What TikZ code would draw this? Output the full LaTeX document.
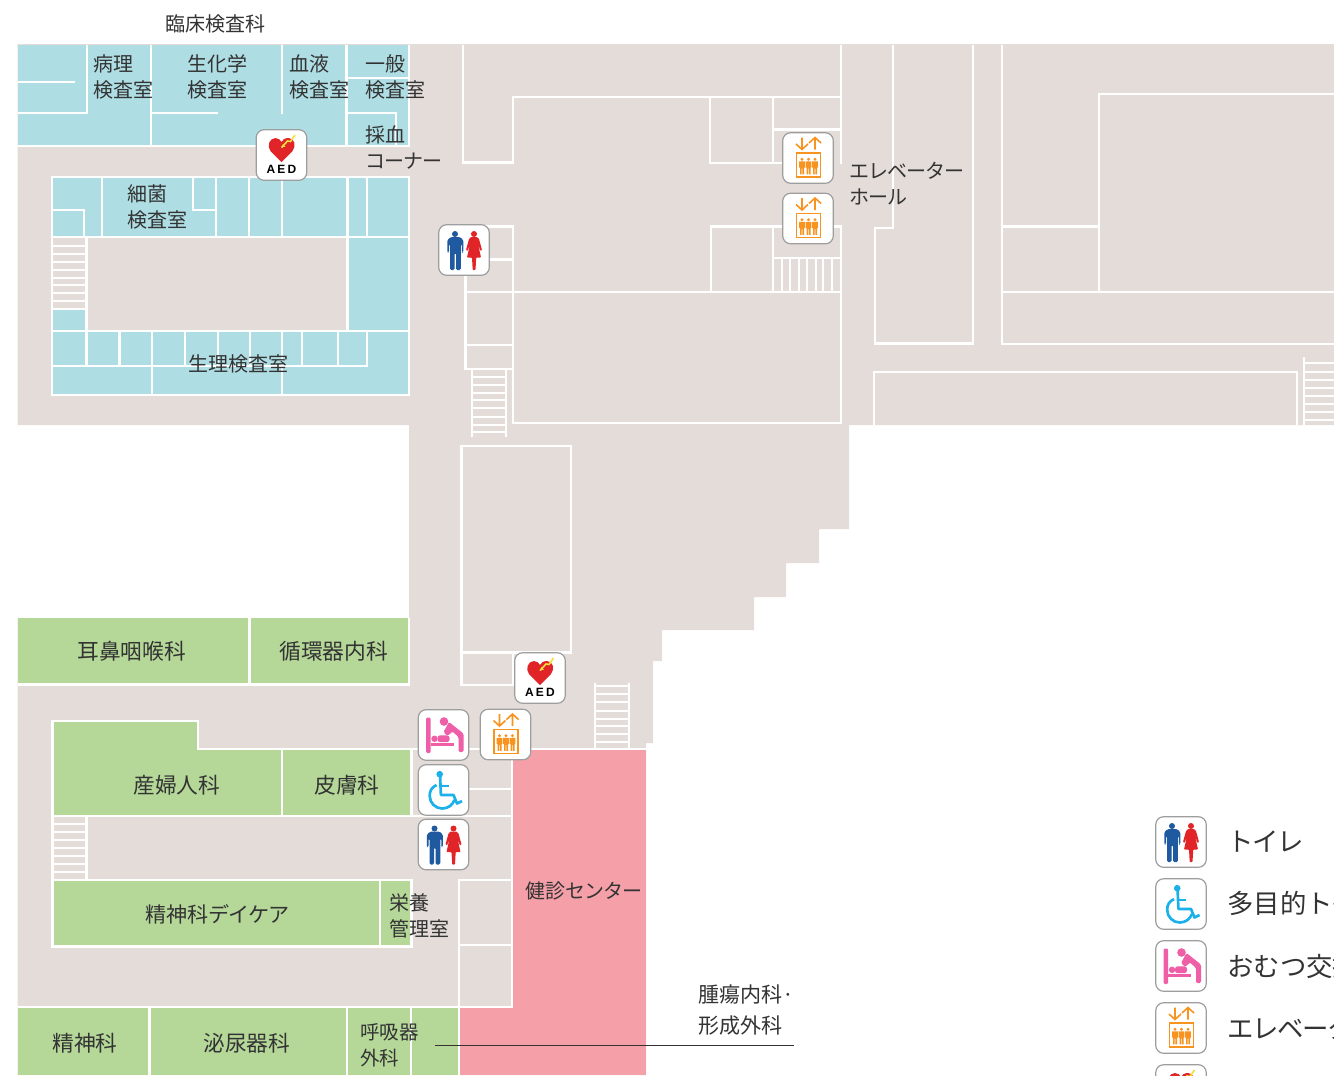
\documentclass[tikz,border=0pt]{standalone}
\usepackage{fontspec}
\setmainfont{Noto Sans CJK JP}
\newfontfamily\aedfont{Liberation Sans}
\definecolor{beige}{HTML}{E4DCD8}
\definecolor{lab}{HTML}{AEDDE3}
\definecolor{ward}{HTML}{B5D899}
\definecolor{checkup}{HTML}{F5A0A8}
\definecolor{ink}{HTML}{333333}
\definecolor{manblue}{HTML}{1F5AA0}
\definecolor{womanred}{HTML}{E02428}
\definecolor{liftorange}{HTML}{F7931E}
\definecolor{chaircyan}{HTML}{1AB0EA}
\definecolor{babypink}{HTML}{EE5FA7}
\definecolor{boltyellow}{HTML}{F7E03C}
\newcommand{\hw}[3]{\draw[wall] (#2,#1) -- (#3,#1);}
\newcommand{\vw}[3]{\draw[wall] (#1,#2) -- (#1,#3);}
\newcommand{\ks}[1]{{\addfontfeature{LetterSpace=-5}#1}}
\tikzset{
  x=0.75pt,y=-0.75pt,
  wall/.style={draw=white,line width=1.75pt,line cap=rect},
  rung/.style={draw=white,line width=1.5pt},
  room/.style={anchor=west,inner sep=0pt,align=left,text=ink,yshift=-0.6pt,font=\fontsize{15}{19.5}\selectfont},
  roomb/.style={room,yshift=0.6pt,font=\fontsize{16.3}{19.5}\selectfont},
  roomc/.style={room,font=\fontsize{15.8}{19.5}\selectfont},
  roomd/.style={room,font=\fontsize{14.6}{19.5}\selectfont},
  legendtext/.style={room,yshift=0.4pt,font=\fontsize{19.8}{19.8}\selectfont},
  iconbox/.style={draw=black!38,fill=white,line width=0.9pt,rounded corners=6pt},
  boxpath/.pic={\draw[iconbox] (-25.3,-25.3) rectangle (25.3,25.3);},
  toilet/.pic={
    \pic {boxpath};
    \fill[manblue] (-9,-16) circle[radius=3];
    \fill[manblue,rounded corners=1pt] (-13,-13) -- (-4,-13) -- (-0.7,-10) -- (-0.7,2.5) -- (-2.2,2.5) -- (-2.2,-6) -- (-3.2,-6) -- (-3.2,20) -- (-8,20) -- (-8,3) -- (-9.5,3) -- (-9.5,20) -- (-14,20) -- (-14,-6) -- (-15,-6) -- (-15,2.5) -- (-16.7,2.5) -- (-16.7,-10) -- cycle;
    \fill[womanred] (10,-16) circle[radius=3];
    \fill[womanred,rounded corners=0.6pt] (7,-13) -- (13,-13) -- (15,-11) -- (18,0) -- (16.5,1) -- (14,-6) -- (17,7.5) -- (12.2,7.5) -- (11.5,20) -- (8.7,20) -- (8,7.5) -- (3,7.5) -- (6,-6) -- (3.5,1) -- (2,0) -- (5,-11) -- cycle;
  },
  lift/.pic={
    \pic {boxpath};
    \draw[liftorange,line width=1.2pt] (-6,-20.5) -- (-6,-8.5) (-12,-14) -- (-6,-8.5) -- (0,-14);
    \draw[liftorange,line width=1.2pt] (7,-8.5) -- (7,-20.5) (1,-15) -- (7,-20.5) -- (13,-15);
    \draw[liftorange,line width=1.3pt] (-11.5,-5) rectangle (12.5,19);
    \foreach \px in {-6,0.5,7}{
      \fill[liftorange] (\px,1.3) circle[radius=1.6];
      \fill[liftorange] (\px-2.9,3.4) -- (\px+2.9,3.4) -- (\px+2.9,9.5) -- (\px+2,9.5) -- (\px+2,16.3) -- (\px+0.3,16.3) -- (\px+0.3,10.5) -- (\px-0.3,10.5) -- (\px-0.3,16.3) -- (\px-2,16.3) -- (\px-2,9.5) -- (\px-2.9,9.5) -- cycle;
    }
  },
  chair/.pic={
    \pic {boxpath};
    \fill[chaircyan] (-3.8,-15.8) circle[radius=3.3];
    \draw[chaircyan,line width=2pt,line join=round] (-3.4,-14) -- (-2.6,5) -- (10,5) -- (13.5,13.5) -- (18.5,11);
    \draw[chaircyan,line width=1.8pt] (-2.8,-3.8) -- (5,-3.8);
    \draw[chaircyan,line width=2pt] (-7,-5) .. controls (-12,-2.5) and (-14,1) .. (-13.8,6) .. controls (-13.8,13) and (-8,18.5) .. (-1.3,18.5) .. controls (4.5,18.5) and (9,15) .. (11,10);
  },
  baby/.pic={
    \pic {boxpath};
    \fill[babypink,rounded corners=1pt] (-17.5,-17.5) rectangle (-12.8,18);
    \fill[babypink] (-13,8) rectangle (10,11);
    \fill[babypink] (-9,3.8) circle[radius=3.2];
    \fill[babypink,rounded corners=2pt] (-6,0.3) rectangle (6,7.2);
    \fill[babypink] (0.5,-13.5) circle[radius=4.3];
    \fill[babypink,rounded corners=1pt] (5.5,-13) -- (20,-1.5) -- (20,17) -- (15,17) -- (15,2) -- (9,-3.5) -- (4,1) -- (0,-3) -- cycle;
  },
  aed/.pic={
    \pic {boxpath};
    \fill[womanred] (0,7) -- (-11,-4) .. controls (-15,-9) and (-12,-17) .. (-6,-17) .. controls (-3,-17) and (-1,-15) .. (0,-13) .. controls (1,-15) and (3,-17) .. (7,-17) .. controls (13,-17) and (15,-9) .. (11,-4) -- cycle;
    \draw[boltyellow,line width=1.2pt] (13.5,-20) -- (9,-13.5) -- (6,-14) -- (0,-7.5);
    \fill[boltyellow] (0,-7.5) -- (4,-8.5) -- (1.5,-11) -- cycle;
    \node[inner sep=0pt,font=\aedfont\bfseries\fontsize{9}{9}\selectfont] (aedtext) at (0,14.5) {A\hspace{1.6pt}E\hspace{1.6pt}D};
  }
}
\begin{document}
\begin{tikzpicture}
\useasboundingbox (0,0) rectangle (1334,1075);
\clip (0,0) rectangle (1334,1075);
% floor
\fill[beige] (17.5,44) -- (1334,44) -- (1334,425) -- (849,425) -- (849,529) -- (819,529) -- (819,563) -- (786,563) -- (786,597) -- (754,597) -- (754,630) -- (662,630) -- (662,661) -- (653,661) -- (653,743) -- (646,743) -- (646,1075) -- (17.5,1075) -- (17.5,618) -- (409,618) -- (409,425) -- (17.5,425) -- cycle;
% coloured rooms
\fill[lab] (17.5,45) rectangle (409,146);
\fill[lab] (52,177) rectangle (409,395);
\fill[beige] (87,237) rectangle (347,331);
\fill[beige] (53,238) rectangle (86,308);
\fill[ward] (17.5,618) rectangle (409,685);
\fill[ward] (53,721) -- (198,721) -- (198,749) -- (411,749) -- (411,816) -- (53,816) -- cycle;
\fill[ward] (53,880) rectangle (411,946);
\fill[ward] (17.5,1007) rectangle (459,1075);
\fill[checkup] (513,749) rectangle (646,1075);
\fill[checkup] (459,1007) rectangle (513,1075);
% upper-left laboratories
\vw{87}{46}{113} \hw{113}{19}{87} \hw{82}{19}{74}
\vw{151}{46}{146} \hw{113}{151}{217}
\vw{282}{46}{113} \vw{346.5}{46}{146}
\hw{78}{347}{408} \hw{113}{347}{396} \vw{396}{113}{146}
\hw{146}{19}{409} \vw{409}{46}{146}
% second lab block
\draw[wall] (52,177) rectangle (409,395);
\hw{237}{52}{409} \vw{102}{177}{237}
\hw{210}{52}{84} \vw{84}{210}{237}
\vw{193}{177}{210} \hw{210}{193}{216} \vw{216}{177}{237}
\vw{249}{177}{237} \vw{282}{177}{237} \vw{347.5}{177}{331} \vw{367}{177}{237}
\hw{331}{52}{409} \vw{86.5}{237}{366}
\foreach \px in {119.5,152,185,218,250,282,302,338,367}{\vw{\px}{331}{366}}
\hw{366}{52}{367} \vw{152}{331}{395} \vw{282}{331}{395}
\foreach \py in {245.5,253.5,261.5,269.5,277.5,285,293,301,308.5}{\draw[rung] (53,\py) -- (86,\py);}
% central upper rooms
\vw{463}{46}{162.5} \hw{162.5}{463}{512.7} \vw{512.7}{97}{162.5}
\hw{97}{512.7}{841} \vw{841}{46}{163}
\vw{710}{97}{163} \hw{163}{710}{790} \vw{773}{97}{163} \hw{129.5}{773}{841}
\hw{226.5}{465}{513} \vw{513}{226.5}{422.7} \hw{259.5}{465.5}{513}
\vw{465.5}{226.5}{369} \hw{292}{465.5}{841} \hw{345}{465.5}{513} \hw{369}{465.5}{513}
\hw{422.7}{513}{841} \vw{841}{226.5}{422.7}
\vw{711}{226.5}{292} \hw{226.5}{711}{841} \vw{773}{226.5}{292} \hw{258}{773}{841}
\foreach \px in {781.7,790,799,807.3,815.7,823.3,831.7}{\draw[rung] (\px,258) -- (\px,292);}
\draw[rung] (472,369) -- (472,437) (505.5,369) -- (505.5,437);
\foreach \py in {377,384.5,392.5,400,408,416.5,424.5,432}{\draw[rung] (472,\py) -- (505.5,\py);}
% right-hand rooms
\vw{893}{46}{227.7} \hw{227.7}{874.7}{893} \vw{874.7}{227.7}{343.5} \hw{343.5}{874.7}{973.3} \vw{973.3}{46}{343.5}
\vw{1002.3}{46}{344} \hw{344}{1002.3}{1336} \hw{226.5}{1002.3}{1099} \vw{1099}{93.7}{292} \hw{93.7}{1099}{1336} \hw{292}{1002.3}{1336}
\draw[wall] (874,424) -- (874,372) -- (1297,372) -- (1297,424);
\draw[rung] (1304,357) -- (1304,425);
\foreach \py in {362.7,371.7,380,388.3,396,404,411.7,420}{\draw[rung] (1304,\py) -- (1334,\py);}
% lower centre
\draw[wall] (461.5,446) rectangle (571,652.5);
\draw[wall] (461.5,652.5) -- (461.5,685) -- (513,685) -- (513,652.5);
\draw[rung] (595,683) -- (595,749) (629,683) -- (629,749);
\foreach \py in {686,694,702,710.5,718.5,726,734,741.5}{\draw[rung] (595,\py) -- (629,\py);}
\hw{749}{512}{645}
% lower left wards
\hw{684.5}{19}{409} \vw{409}{619}{685} \vw{249.5}{619}{685}
\draw[wall] (52.5,721) -- (198,721) -- (198,749) -- (411.5,749) -- (411.5,816) -- (52.5,816) -- cycle;
\hw{749}{411.5}{480} \vw{282}{749}{816}
\hw{816}{411.5}{512} \hw{789}{465}{512}
\vw{52.5}{816}{880} \vw{86.5}{816}{880}
\foreach \py in {823.5,832,840,848,856,864,872}{\draw[rung] (53,\py) -- (86,\py);}
\draw[wall] (52.5,880) rectangle (411.5,946.5);
\vw{380}{880}{946.5}
\vw{512}{749}{1007} \vw{459}{880}{1075} \hw{880}{459}{512} \hw{945}{459}{512}
\hw{1007}{19}{512}
\vw{149.5}{1007}{1075} \vw{346.7}{1007}{1075} \vw{410.7}{1007}{1075}
% leader line
\coordinate (leadA) at (435,1045.5);
\coordinate (leadB) at (794,1045.5);
\draw[ink,line width=0.7pt] (leadA) -- (leadB);
% labels
\node[room] (tRinsho) at (165,23) {臨床検査科};
\node[room] (tByori) at (93,76) {病理\\検査室};
\node[room] (tSeika) at (187,76) {生化学\\検査室};
\node[room] (tKetsu) at (289,76) {血液\\検査室};
\node[room] (tIppan) at (365,76) {一般\\検査室};
\node[room] (tSaiketsu) at (365,147) {採血\\\ks{コーナー}};
\node[room] (tSaikin) at (127,206) {細菌\\検査室};
\node[room] (tSeiri) at (188,363.3) {生理検査室};
\node[room] (tElevHall) at (849,183.3) {\ks{エレベーター}\\\ks{ホール}};
\node[roomb] (tJibi) at (77,651) {耳鼻咽喉科};
\node[roomb] (tJunkan) at (279,651) {循環器内科};
\node[roomb] (tSanfu) at (133,785) {産婦人科};
\node[roomb] (tHifu) at (314,785) {皮膚科};
\node[roomc] (tDaycare) at (145,914) {精神科\ks{デイケア}};
\node[room] (tEiyo) at (389,915) {栄養\\管理室};
\node[room] (tKenshin) at (525,890) {健診\ks{センター}};
\node[roomc] (tShuyo) at (698,993.3) {腫瘍内科·};
\node[roomc] (tKeisei) at (698,1024.3) {形成外科};
\node[roomb] (tSeishin) at (52,1043) {精神科};
\node[roomb] (tHinyo) at (203,1043) {泌尿器科};
\node[roomd] (tKokyu) at (360,1044.2) {呼吸器\\外科};
% icons on the plan
\pic at (281.5,155) {aed};
\pic at (808,158) {lift};
\pic at (808,218.5) {lift};
\pic at (464,250) {toilet};
\pic at (540,678) {aed};
\pic at (443.5,735) {baby};
\pic at (505.5,734.5) {lift};
\pic at (443.5,790) {chair};
\pic at (443.5,844.5) {toilet};
% legend
\pic at (1181,842) {toilet};
\pic at (1181,904) {chair};
\pic at (1181,966) {baby};
\pic at (1181,1028) {lift};
\pic at (1181,1090) {aed};
\node[legendtext] (lgToilet) at (1227,841) {\ks{トイレ}};
\node[legendtext] (lgMulti) at (1227,903) {多目的\ks{トイレ}};
\node[legendtext] (lgBaby) at (1227,966) {おむつ交換台};
\node[legendtext] (lgLift) at (1227,1028) {\ks{エレベーター}};
\end{tikzpicture}
\end{document}
